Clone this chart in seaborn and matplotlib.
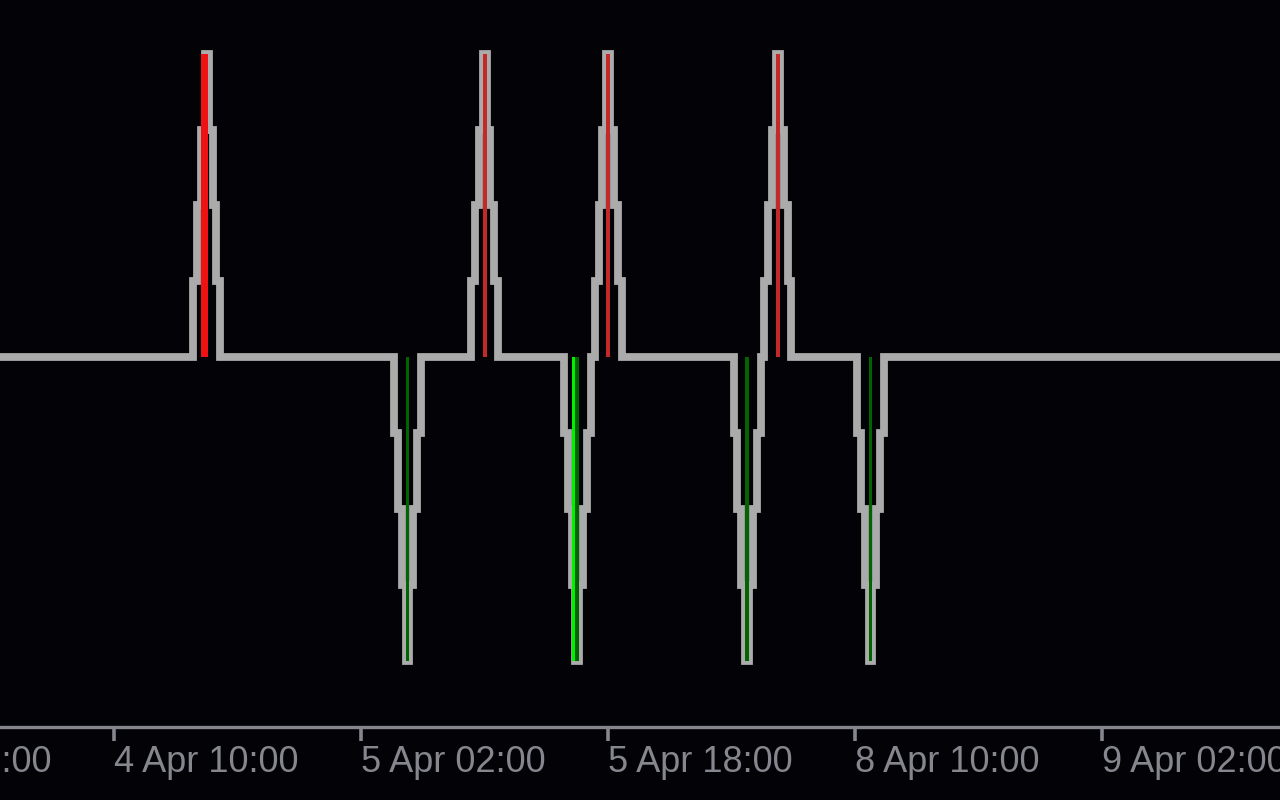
import numpy as np
import pandas as pd
import matplotlib
matplotlib.use("Agg")
import matplotlib.pyplot as plt
import seaborn as sns

# ---- data (M15 bars, index 0 = 3 Apr 18:00) ----
n_bars = 400
tick_bars = [0, 64, 128, 192, 256, 320]
tick_labels = ["3 Apr 18:00", "4 Apr 10:00", "5 Apr 02:00",
               "5 Apr 18:00", "8 Apr 10:00", "9 Apr 02:00"]
spike_bars = [88, 140, 160, 184, 192, 228, 236, 260]
spike_sign = [1, -1, 1, -1, 1, -1, 1, -1]
spike_profile = [1, 2, 3, 4, 3, 2, 1]
spike_strong = [True, False, False, True, False, False, False, False]

values = np.zeros(n_bars)
for b, s in zip(spike_bars, spike_sign):
    for k, v in enumerate(spike_profile):
        values[b - 3 + k] = s * v
peak_height = [s * max(spike_profile) for s in spike_sign]

# ---- style ----
BG = "#030307"
GRAY_LINE = "#ababab"
AXIS_GRAY = "#85868e"
sns.set_style("dark", {"axes.facecolor": BG, "figure.facecolor": BG})
plt.rcParams["font.family"] = ["Liberation Sans", "DejaVu Sans"]

fig = plt.figure(figsize=(12.8, 8), dpi=100)
ax = fig.add_axes([0, 0.09125, 1, 0.90875])
ax.set_facecolor(BG)

df = pd.DataFrame({"bar": np.arange(n_bars), "value": values})
sns.lineplot(data=df, x="bar", y="value", ax=ax, color=GRAY_LINE,
             linewidth=5.6, drawstyle="steps-mid", estimator=None,
             solid_joinstyle="miter", solid_capstyle="butt", zorder=2)

for b, h, strong in zip(spike_bars, peak_height, spike_strong):
    if h > 0:
        if strong:
            ax.bar(b - 1.5, h, width=1.75, align="edge", color="#f01212",
                   linewidth=0, zorder=3)
        else:
            ax.bar(b, h, width=1.0, color="#c42828", linewidth=0, zorder=3)
    else:
        if strong:
            ax.bar(b - 1.5, h, width=2.0, align="edge", color="#00f000",
                   linewidth=0, zorder=3)
        ax.bar(b, h, width=1.0, color="#006400", linewidth=0, zorder=4)

ax.set_xlabel("")
ax.set_ylabel("")
ax.grid(False)
for side in ["top", "left", "right"]:
    ax.spines[side].set_visible(False)
ax.spines["bottom"].set_color(AXIS_GRAY)
ax.spines["bottom"].set_linewidth(2.4)

ax.set_xticks(tick_bars)
ax.set_xticklabels(tick_labels)
ax.set_xlim(34.4, 366.1)
ax.set_ylim(-4.862, 4.704)
ax.tick_params(axis="x", bottom=True, direction="out", length=10, width=2.6,
               color=AXIS_GRAY, labelcolor=AXIS_GRAY, labelsize=26, pad=3)
ax.tick_params(axis="y", left=False, labelleft=False)
for lbl in ax.get_xticklabels():
    lbl.set_ha("left")

# partially visible label of the tick left of the view
trans, va, ha = ax.get_xaxis_text1_transform(13)
ax.text(tick_bars[0], 0, tick_labels[0], transform=trans, va="top", ha="left",
        color=AXIS_GRAY, fontsize=26, clip_on=False)

fig.savefig("out.png", dpi=100, facecolor=BG)
